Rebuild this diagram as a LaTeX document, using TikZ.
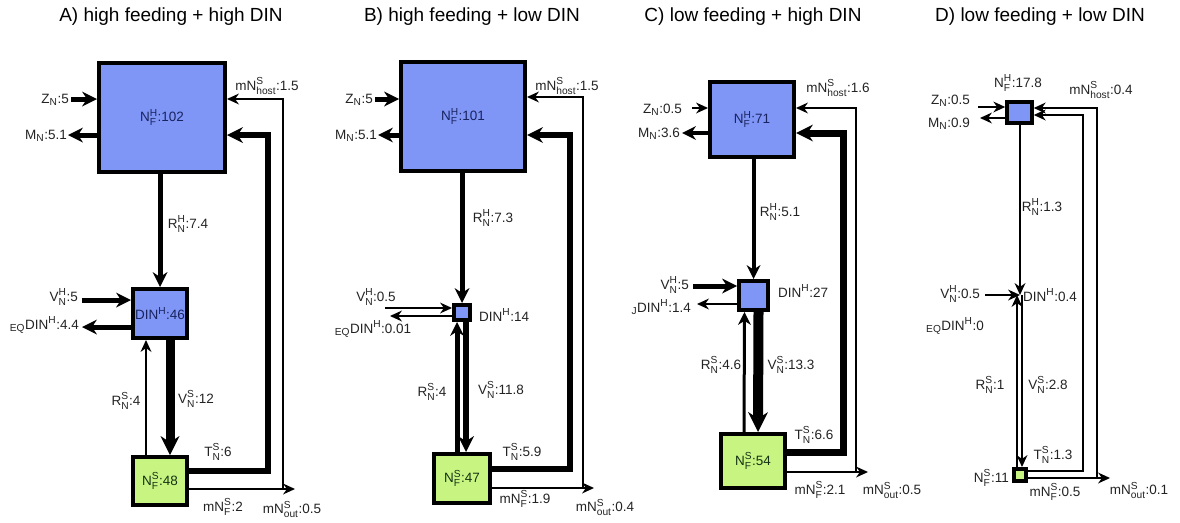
\documentclass[tikz,border=0pt]{standalone}
\usepackage{fontspec}
\usepackage{amsmath}
\setmainfont{Liberation Sans}
\usetikzlibrary{arrows.meta}
\DeclareMathSizes{13.5}{13.5}{10.2}{8}
\definecolor{hblue}{RGB}{128,150,246}
\definecolor{sgreen}{RGB}{200,245,130}
\definecolor{boxtxt}{RGB}{25,35,95}
\definecolor{gtxt}{RGB}{20,50,20}
\definecolor{labtxt}{RGB}{35,35,35}
\newcommand\fx[3]{$\text{#1}^{\text{#2}}_{\text{#3}}$}
\newcommand\labfont{\fontsize{13.5}{15}\selectfont}
\newcommand\boxfont{\fontsize{13.5}{15}\selectfont}
\newcommand\ttlfont{\fontsize{19}{22}\selectfont}
\tikzset{
  box/.style={draw=black, line width=4pt, inner sep=0pt, font=\boxfont},
  hbox/.style={box, fill=hblue, text=boxtxt},
  sbox/.style={box, fill=sgreen, text=gtxt},
  flow/.style 2 args={line width=#1, -{Stealth[length=#2, width=#2, line width=0pt]}},
  flowthin/.style={line width=1.3pt, -{Stealth[length=12pt, width=11pt, line width=0pt]}},
  lab/.style={font=\labfont, text=labtxt, inner sep=1pt},
  ttl/.style={font=\ttlfont, text=black}
}
\begin{document}
\begin{tikzpicture}[x=1pt,y=-1pt]
\useasboundingbox (0,0) rectangle (1180,522);
% ================= Panel A =================
\node[ttl] (tA) at (171,17) {A) high feeding + high DIN};
\node[hbox, minimum width=126pt, minimum height=109pt] (HA) at (162,117.5) {\fx{N}{H}{F}:102};
\node[hbox, minimum width=54pt, minimum height=49pt] (DA) at (160,313.5) {DIN$^{\text{H}}$:46};
\node[sbox, minimum width=54pt, minimum height=48pt] (GA) at (160,481) {\fx{N}{S}{F}:48};
\coordinate (zA) at (71,99);
\coordinate (mA) at (68,135);
\coordinate (vA) at (82,300);
\coordinate (eA) at (82,327);
\coordinate (tA1) at (268,471);
\coordinate (tA2) at (268,135);
\coordinate (hA1) at (283,489);
\coordinate (hA2) at (283,99);
\coordinate (oA) at (295,489);
\draw[flow={5pt}{15pt}] (zA) -- (zA -| HA.west);
\draw[flow={5pt}{15pt}] (mA -| HA.west) -- (mA);
\draw[flow={5pt}{15pt}] (DA.north |- HA.south) -- (DA.north);
\draw[flow={5pt}{15pt}] (vA) -- (vA -| DA.west);
\draw[flow={5pt}{15pt}] (eA -| DA.west) -- (eA);
\draw[flow={9pt}{19pt}] ([xshift=10pt]DA.south) -- ([xshift=10pt]GA.north);
\draw[flowthin] ([xshift=-14pt]GA.north) -- ([xshift=-14pt]DA.south);
\draw[flow={6pt}{16pt}] (tA1 -| GA.east) -- (tA1) -- (tA2) -- (tA2 -| HA.east);
\draw[flowthin] (oA -| GA.east) -- (oA);
\draw[flowthin] (hA1) -- (hA2) -- (hA2 -| HA.east);
\node[lab, anchor=east] (lzA) at (70,100) {$\text{Z}_{\text{N}}$:5};
\node[lab, anchor=east] (lmA) at (68,136) {$\text{M}_{\text{N}}$:5.1};
\node[lab] (lhA) at (267,86) {m\fx{N}{S}{host}:1.5};
\node[lab] (lrA) at (188,224) {\fx{R}{H}{N}:7.4};
\node[lab, anchor=east] (lvA) at (79,297) {\fx{V}{H}{N}:5};
\node[lab, anchor=east] (leA) at (80,325) {${}_{\text{EQ}}\text{DIN}^{\text{H}}$:4.4};
\node[lab] (lrsA) at (126,401) {\fx{R}{S}{N}:4};
\node[lab] (lvsA) at (196,399) {\fx{V}{S}{N}:12};
\node[lab] (ltA) at (218,452) {\fx{T}{S}{N}:6};
\node[lab] (lfA) at (223,507) {m\fx{N}{S}{F}:2};
\node[lab] (loA) at (292,509) {m\fx{N}{S}{out}:0.5};
% ================= Panel B =================
\node[ttl] (tB) at (472,17) {B) high feeding + low DIN};
\node[hbox, minimum width=124pt, minimum height=109pt] (HB) at (463,116.5) {\fx{N}{H}{F}:101};
\node[hbox, minimum width=16pt, minimum height=15pt] (DB) at (462,312.5) {};
\node[sbox, minimum width=56pt, minimum height=49pt] (GB) at (462,478.5) {\fx{N}{S}{F}:47};
\coordinate (zB) at (375,99);
\coordinate (mB) at (378,135);
\coordinate (vB) at (385,308);
\coordinate (eB) at (390,316);
\coordinate (tB1) at (570,469);
\coordinate (tB2) at (570,135);
\coordinate (hB1) at (583,488);
\coordinate (hB2) at (583,97);
\coordinate (oB) at (594,488);
\draw[flow={5pt}{15pt}] (zB) -- (zB -| HB.west);
\draw[flow={5pt}{15pt}] (mB -| HB.west) -- (mB);
\draw[flow={5pt}{15pt}] (DB.north |- HB.south) -- (DB.north);
\draw[flowthin] (vB) -- (vB -| DB.west);
\draw[flowthin] (eB -| DB.west) -- (eB);
\draw[flow={6pt}{16pt}] ([xshift=4pt]DB.south) -- ([xshift=4pt]GB.north);
\draw[flow={5pt}{14pt}] ([xshift=-5pt]GB.north) -- ([xshift=-5pt]DB.south);
\draw[flow={6pt}{16pt}] (tB1 -| GB.east) -- (tB1) -- (tB2) -- (tB2 -| HB.east);
\draw[flowthin] (oB -| GB.east) -- (oB);
\draw[flowthin] (hB1) -- (hB2) -- (hB2 -| HB.east);
\node[lab, anchor=east] (lzB) at (374,100) {$\text{Z}_{\text{N}}$:5};
\node[lab, anchor=east] (lmB) at (378,136) {$\text{M}_{\text{N}}$:5.1};
\node[lab] (lhB) at (567,86) {m\fx{N}{S}{host}:1.5};
\node[lab] (lrB) at (493,218) {\fx{R}{H}{N}:7.3};
\node[lab] (lvB) at (376,297) {\fx{V}{H}{N}:0.5};
\node[lab] (leB) at (373,329) {${}_{\text{EQ}}\text{DIN}^{\text{H}}$:0.01};
\node[lab, anchor=west] (ldB) at (478,315) {DIN$^{\text{H}}$:14};
\node[lab] (lrsB) at (432,392) {\fx{R}{S}{N}:4};
\node[lab] (lvsB) at (501,390) {\fx{V}{S}{N}:11.8};
\node[lab] (ltB) at (522,452) {\fx{T}{S}{N}:5.9};
\node[lab] (lfB) at (525,499) {m\fx{N}{S}{F}:1.9};
\node[lab] (loB) at (605,507) {m\fx{N}{S}{out}:0.4};
% ================= Panel C =================
\node[ttl] (tC) at (753,17) {C) low feeding + high DIN};
\node[hbox, minimum width=84pt, minimum height=75pt] (HC) at (752,119.5) {\fx{N}{H}{F}:71};
\node[hbox, minimum width=29pt, minimum height=29pt] (DC) at (753.5,295.5) {};
\node[sbox, minimum width=64pt, minimum height=54pt] (GC) at (753,461) {\fx{N}{S}{F}:54};
\coordinate (zC) at (692,108);
\coordinate (mC) at (682,133);
\coordinate (vC) at (693,286);
\coordinate (eC) at (697,304);
\coordinate (tC1) at (843,452);
\coordinate (tC2) at (843,133);
\coordinate (hC1) at (856,472);
\coordinate (hC2) at (856,108);
\coordinate (oC) at (868,472);
\draw[flowthin] (zC) -- (zC -| HC.west);
\draw[flow={4pt}{14pt}] (mC -| HC.west) -- (mC);
\draw[flow={4pt}{14pt}] (DC.north |- HC.south) -- (DC.north);
\draw[flow={5pt}{15pt}] (vC) -- (vC -| DC.west);
\draw[flowthin] (eC -| DC.west) -- (eC);
\draw[flow={10pt}{20pt}] ([xshift=5pt]DC.south) -- ([xshift=5pt]GC.north);
\draw[flow={3pt}{13pt}] ([xshift=-9pt]GC.north) -- ([xshift=-9pt]DC.south);
\draw[flow={7pt}{17pt}] (tC1 -| GC.east) -- (tC1) -- (tC2) -- (tC2 -| HC.east);
\draw[flowthin] (oC -| GC.east) -- (oC);
\draw[flowthin] (hC1) -- (hC2) -- (hC2 -| HC.east);
\node[lab, anchor=east] (lzC) at (683,110) {$\text{Z}_{\text{N}}$:0.5};
\node[lab, anchor=east] (lmC) at (681,134) {$\text{M}_{\text{N}}$:3.6};
\node[lab] (lhC) at (838,88) {m\fx{N}{S}{host}:1.6};
\node[lab] (lrC) at (780,212) {\fx{R}{H}{N}:5.1};
\node[lab, anchor=east] (lvC) at (690,285) {\fx{V}{H}{N}:5};
\node[lab, anchor=east] (leC) at (692,307) {${}_{\text{J}}\text{DIN}^{\text{H}}$:1.4};
\node[lab, anchor=west] (ldC) at (777,291) {DIN$^{\text{H}}$:27};
\node[lab] (lrsC) at (721,365) {\fx{R}{S}{N}:4.6};
\node[lab] (lvsC) at (791,365) {\fx{V}{S}{N}:13.3};
\node[lab] (ltC) at (814,435) {\fx{T}{S}{N}:6.6};
\node[lab] (lfC) at (820,490) {m\fx{N}{S}{F}:2.1};
\node[lab] (loC) at (892,490) {m\fx{N}{S}{out}:0.5};
% ================= Panel D =================
\node[ttl] (tD) at (1040,17) {D) low feeding + low DIN};
\node[hbox, line width=3.5pt, minimum width=25pt, minimum height=21pt] (HD) at (1019.5,112.5) {};
\coordinate (DD) at (1020,295);
\node[sbox, minimum width=12pt, minimum height=12pt] (GD) at (1020,475) {};
\coordinate (zD) at (978,107);
\coordinate (mD) at (980,118);
\coordinate (vD) at (985,295);
\coordinate (tD1) at (1083,471);
\coordinate (tD2) at (1083,115);
\coordinate (hD1) at (1097,478);
\coordinate (hD2) at (1097,108);
\coordinate (oD) at (1110,478);
\draw[flowthin] (zD) -- (zD -| HD.west);
\draw[flowthin] (mD -| HD.west) -- (mD);
\draw[flowthin] (DD |- HD.south) -- (DD);
\draw[flowthin] (vD) -- (DD);
\draw[line width=2pt, -{Stealth[length=12pt, width=11pt, line width=0pt]}] ([xshift=2pt]DD) -- ([xshift=2pt]GD.north);
\draw[line width=2pt, -{Stealth[length=12pt, width=11pt, line width=0pt]}] ([xshift=-3pt]GD.north) -- ([xshift=-3pt]DD);
\draw[flowthin] (tD1 -| GD.east) -- (tD1) -- (tD2) -- (tD2 -| HD.east);
\draw[flowthin] (oD -| GD.east) -- (oD);
\draw[flowthin] (hD1) -- (hD2) -- (hD2 -| HD.east);
\node[lab] (lnD) at (1018,83) {\fx{N}{H}{F}:17.8};
\node[lab, anchor=east] (lzD) at (971,101) {$\text{Z}_{\text{N}}$:0.5};
\node[lab, anchor=east] (lmD) at (971,124) {$\text{M}_{\text{N}}$:0.9};
\node[lab] (lhD) at (1101,90) {m\fx{N}{S}{host}:0.4};
\node[lab] (lrD) at (1042,207) {\fx{R}{H}{N}:1.3};
\node[lab, anchor=east] (lvD) at (981,294) {\fx{V}{H}{N}:0.5};
\node[lab] (leD) at (955,326) {${}_{\text{EQ}}\text{DIN}^{\text{H}}$:0};
\node[lab, anchor=west] (ldD) at (1022,295) {DIN$^{\text{H}}$:0.4};
\node[lab] (lrsD) at (990,385) {\fx{R}{S}{N}:1};
\node[lab] (lvsD) at (1048,385) {\fx{V}{S}{N}:2.8};
\node[lab] (ltD) at (1053,455) {\fx{T}{S}{N}:1.3};
\node[lab, anchor=east] (lgD) at (1010,478) {\fx{N}{S}{F}:11};
\node[lab] (lfD) at (1055,492) {m\fx{N}{S}{F}:0.5};
\node[lab] (loD) at (1139,490) {m\fx{N}{S}{out}:0.1};
\end{tikzpicture}
\end{document}
